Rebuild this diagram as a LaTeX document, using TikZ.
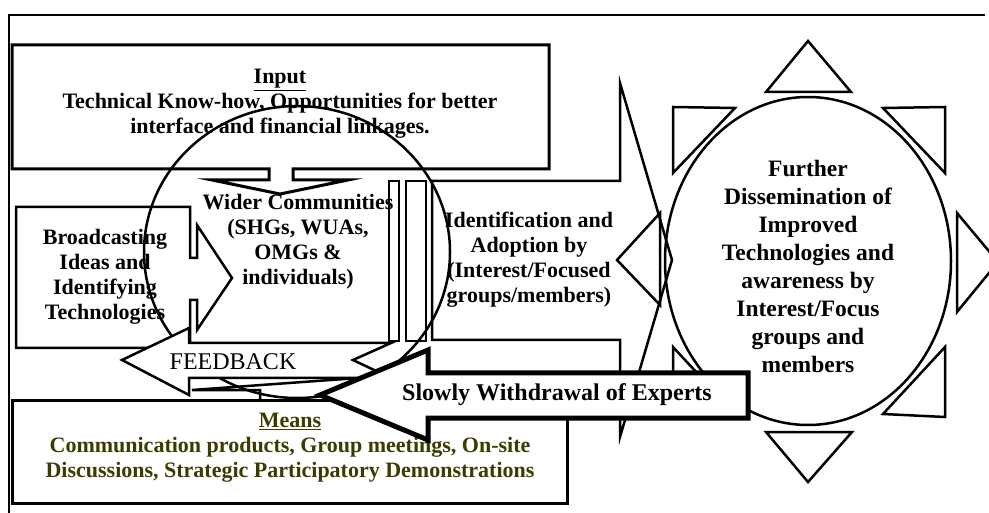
\documentclass[tikz,border=0pt]{standalone}
\usepackage{fontspec}
\setmainfont{Liberation Serif}
\definecolor{meanscol}{RGB}{60,60,0}
\tikzset{
  shp/.style={draw=black, line width=2.5pt, line join=miter},
  wtxt/.style={font=\bfseries\fontsize{22}{25}\selectfont, align=center, inner sep=0pt},
  bigtxt/.style={font=\bfseries\fontsize{23.5}{28}\selectfont, align=center, inner sep=0pt},
}
\begin{document}
\begin{tikzpicture}[x=1pt,y=-1pt]
\useasboundingbox (0,0) rectangle (989,513);
\fill[white] (0,0) rectangle (989,513);
% outer frame
\coordinate (fTL) at (9,15);
\coordinate (fTR) at (985,15);
\coordinate (fBL) at (9,513);
\draw[line width=1.5pt] (fTR) -- (fTL) -- (fBL);

% Input (down arrow callout)
\draw[shp, line width=3pt, fill=white] (12,45) -- (549,45) -- (549,169) -- (293,169) -- (293,180) -- (348,180) -- (280,194) -- (212,180) -- (269,180) -- (269,169) -- (12,169) -- cycle;
\node[wtxt] (input) at (280,104) {\underline{Input}\\Technical Know-how, Opportunities for better\\interface and financial linkages.};

% Broadcasting (right arrow callout)
\draw[shp, fill=white] (16,207) -- (190,207) -- (190,258) -- (197,258) -- (197,225) -- (232,278) -- (197,330) -- (197,300) -- (190,300) -- (190,348) -- (16,348) -- cycle;
\node[wtxt] (broad) at (105,277) {Broadcasting\\Ideas and\\Identifying\\Technologies};

% Wider communities
\node[wtxt] (wider) at (298,242) {Wider Communities\\(SHGs, WUAs,\\OMGs \&\\individuals)};

% striped right arrow
\draw[shp] (389,181) rectangle (399,341);
\draw[shp] (406,181) rectangle (426,341);
\draw[shp] (432,181) -- (620,181) -- (620,83) -- (672,260) -- (620,437) -- (620,340) -- (432,340) -- cycle;
\node[wtxt] (ident) at (529,260) {Identification and\\Adoption by\\(Interest/Focused\\groups/members)};

% sun
\draw[shp] (808,261) ellipse [x radius=143, y radius=164];
\draw[shp] (766,92) -- (851,92) -- (808,41) -- cycle;
\draw[shp] (766,432) -- (852,432) -- (808,482) -- cycle;
\draw[shp] (673,107) -- (735,108) -- (673,173) -- cycle;
\draw[shp] (883,108) -- (945,107) -- (945,173) -- cycle;
\draw[shp] (673,347) -- (673,415) -- (735,414) -- cycle;
\draw[shp] (945,347) -- (945,417) -- (883,414) -- cycle;
\draw[shp] (660,213) -- (617,260) -- (660,305) -- cycle;
\draw[shp] (957,213) -- (998,262) -- (957,312) -- cycle;
\node[bigtxt] (sun) at (808,266) {Further\\Dissemination of\\Improved\\Technologies and\\awareness by\\Interest/Focus\\groups and\\members};

% big circle
\draw[shp] (297,252) ellipse [x radius=153, y radius=146];

% Means
\draw[shp, line width=3pt, fill=white] (12,400) rectangle (567,503);
\draw[shp] (260,400) -- (260,390) -- (192,390) -- (372,377);
\node[wtxt, text=meanscol] (means) at (290,448) {\underline{Means}\\Communication products, Group meetings, On-site\\Discussions, Strategic Participatory Demonstrations};

% FEEDBACK arrow
\draw[shp, fill=white] (122,360) -- (189,328) -- (189,343) -- (391,343) -- (353,360) -- (391,378) -- (189,378) -- (189,395) -- cycle;
\node[font=\fontsize{24}{28}\selectfont, inner sep=0pt] (fb) at (233,362) {FEEDBACK};

% Slowly withdrawal arrow
\draw[shp, line width=5pt, fill=white] (320,395) -- (428,350) -- (428,373) -- (748,373) -- (748,418) -- (428,418) -- (428,440) -- cycle;
\node[font=\bfseries\fontsize{24}{28}\selectfont, inner sep=0pt] (slow) at (557,395) {Slowly Withdrawal of Experts};
\end{tikzpicture}
\end{document}
